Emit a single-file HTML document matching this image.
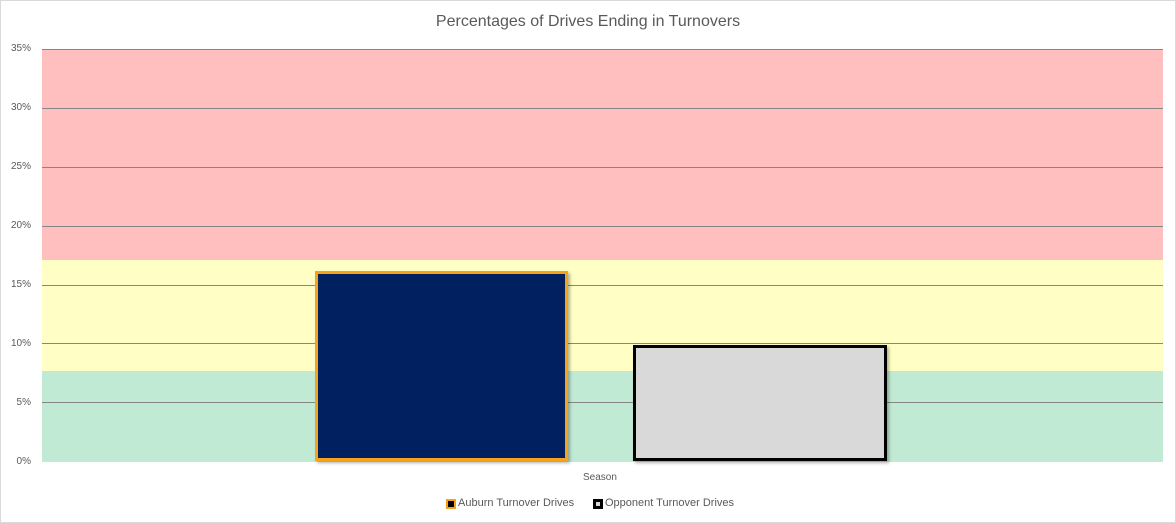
<!DOCTYPE html>
<html><head><style>
body{margin:0;background:#fff;font-family:"Liberation Sans",sans-serif;}
.c{position:relative;width:1174px;height:521px;border:1px solid #d9d9d9;overflow:hidden;}
.a{position:absolute;}
.yl{position:absolute;left:0;width:30px;text-align:right;font-size:10px;color:#595959;}
.g{position:absolute;left:41px;width:1121px;height:1px;background:#868686;}
</style></head><body><div class="c">
<div class="a" style="left:0;width:1174px;top:12px;text-align:center;font-size:16px;color:#595959;">Percentages of Drives Ending in Turnovers</div>
<div class="a" style="left:41px;width:1121px;top:48px;height:211px;background:#ffbfbf"></div>
<div class="a" style="left:41px;width:1121px;top:259px;height:111px;background:#ffffc5"></div>
<div class="a" style="left:41px;width:1121px;top:370px;height:91px;background:#c0ead4"></div>
<div class="g" style="top:48px"></div><div class="g" style="top:107px"></div><div class="g" style="top:166px"></div><div class="g" style="top:225px"></div><div class="g" style="top:284px"></div><div class="g" style="top:342px"></div><div class="g" style="top:401px"></div>
<div class="yl" style="top:42px">35%</div><div class="yl" style="top:101px">30%</div><div class="yl" style="top:160px">25%</div><div class="yl" style="top:219px">20%</div><div class="yl" style="top:278px">15%</div><div class="yl" style="top:337px">10%</div><div class="yl" style="top:396px">5%</div><div class="yl" style="top:455px">0%</div>
<div class="a" style="left:314px;top:270px;width:247px;height:184px;background:#002060;border:3px solid #f5a31a;box-shadow:2px 2px 3px rgba(0,0,0,.3)"></div>
<div class="a" style="left:632px;top:344px;width:248px;height:110px;background:#d9d9d9;border:3px solid #000;box-shadow:2px 2px 3px rgba(0,0,0,.3)"></div>
<div class="a" style="left:582px;top:471px;font-size:10px;color:#595959">Season</div>
<div class="a" style="left:445px;top:498px;width:6px;height:6px;background:#000;border:2px solid #f5a31a"></div>
<div class="a" style="left:457px;top:496px;font-size:11px;color:#595959">Auburn Turnover Drives</div>
<div class="a" style="left:592px;top:498px;width:4px;height:4px;background:#d9d9d9;border:3px solid #000"></div>
<div class="a" style="left:604px;top:496px;font-size:11px;color:#595959">Opponent Turnover Drives</div>
</div></body></html>
